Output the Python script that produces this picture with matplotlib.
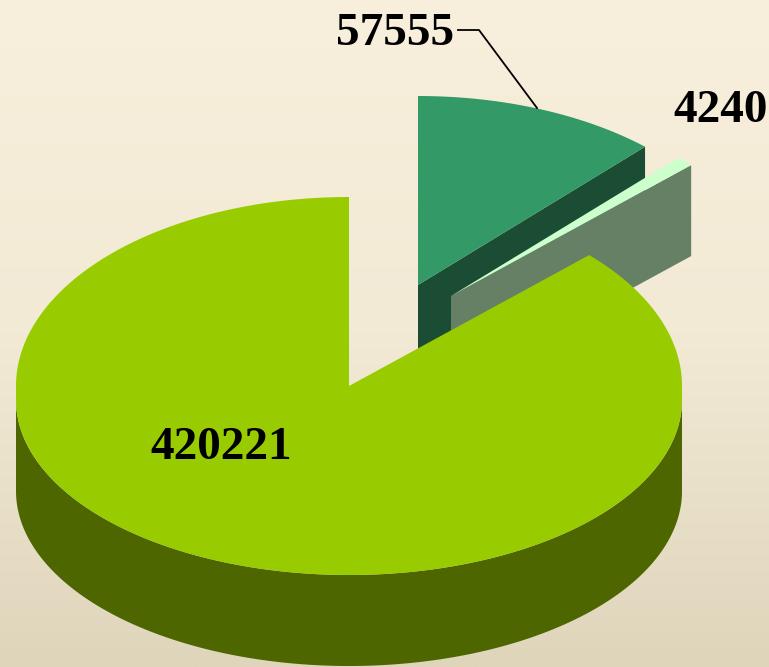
import numpy as np
import matplotlib
matplotlib.use("Agg")
import matplotlib.pyplot as plt
from matplotlib.colors import LinearSegmentedColormap

# Data
values = [57555, 4240, 420221]
labels = ["57555", "4240", "420221"]

# Styling
top_colors = ["#339966", "#CCFFCC", "#99CC00"]
side_colors = ["#1A4D33", "#668066", "#4D6600"]
centers = [(418, 285), (451, 296), (349, 386)]
RX, RY, DEPTH, DROP = 333, 189, 91, 14

fig = plt.figure(figsize=(7.69, 6.67), dpi=100)
ax = fig.add_axes([0, 0, 1, 1])
ax.set_xlim(0, 769)
ax.set_ylim(667, 0)
ax.axis("off")

cmap = LinearSegmentedColormap.from_list("bg", ["#F8EFDC", "#F2EAD5", "#DFD5BB"])
ax.imshow(np.linspace(0, 1, 256)[:, None], cmap=cmap, extent=(0, 769, 667, 0),
          aspect="auto", zorder=0)


def point(c, theta):
    """Outline of the pie top; the front half is a little flatter, as in the reference."""
    cs = np.cos(theta)
    y = np.where(cs >= 0, c[1] - RY * cs, c[1] + DROP - (RY - DROP) * cs)
    return c[0] + RX * np.sin(theta), y


fracs = np.array(values) / sum(values)
edges = np.concatenate([[0], np.cumsum(fracs)]) * 2 * np.pi

for i, c in enumerate(centers):
    t0, t1 = edges[i], edges[i + 1]
    th = np.linspace(t0, t1, 600)
    x, y = point(c, th)
    z = 1 + i
    # outer rim visible only on the front half
    front = np.linspace(max(t0, np.pi / 2), min(t1, 3 * np.pi / 2), 300)
    if front[-1] > front[0]:
        fx, fy = point(c, front)
        ax.fill(np.r_[fx, fx[::-1]], np.r_[fy, fy[::-1] + DEPTH],
                color=side_colors[i], lw=0, zorder=z)
    # cut face at the clockwise end of the first two slices
    if i < 2:
        ex, ey = point(c, t1)
        ax.fill([c[0], ex, ex, c[0]], [c[1], ey, ey + DEPTH, c[1] + DEPTH],
                color=side_colors[i], lw=0, zorder=z)
    ax.fill(np.r_[c[0], x], np.r_[c[1], y], color=top_colors[i], lw=0, zorder=z + 0.5)

font = dict(family="Liberation Serif", weight="bold", fontsize=34, color="black",
            ha="center", va="center", zorder=10)
ax.text(395, 34, labels[0], **font)
ax.text(721, 111, labels[1], **font)
ax.text(221, 448, labels[2], **font)

ax.plot([458, 479, 537], [30, 30, 108], color="black", lw=1.3, zorder=9)

fig.savefig("out.png", dpi=100)
